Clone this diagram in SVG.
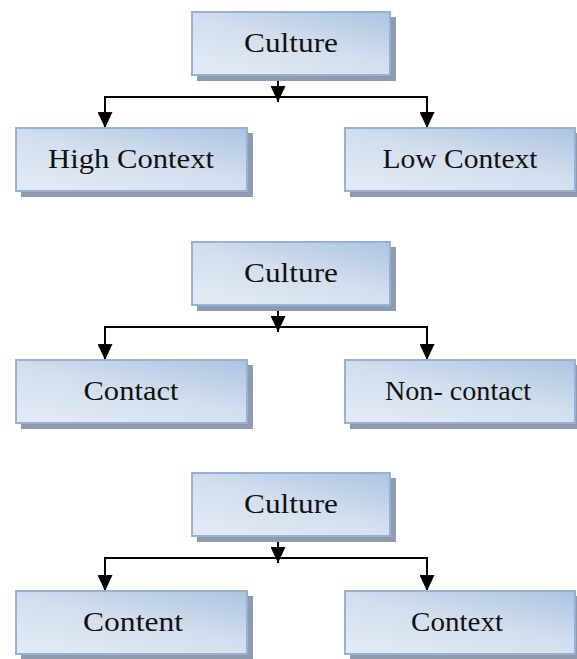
<svg xmlns="http://www.w3.org/2000/svg" width="577" height="659" viewBox="0 0 577 659">
<style>
.shadow{fill:#8e9aad}
.box{fill:url(#g);stroke:#95b2d6;stroke-width:2}
.lbl{font-family:"Liberation Serif","DejaVu Serif",serif;font-size:27px;fill:#111;text-anchor:middle}
.con{fill:none;stroke:#000;stroke-width:2}
</style>
<defs>
<linearGradient id="g" x1="1" y1="0" x2="0.25" y2="1">
<stop offset="0" stop-color="#acc4e1"/>
<stop offset="0.55" stop-color="#d3dfee"/>
<stop offset="1" stop-color="#e1e9f4"/>
</linearGradient>
<marker id="a" markerUnits="userSpaceOnUse" markerWidth="16" markerHeight="15" viewBox="0 0 16 15" refX="16" refY="7.5" orient="auto">
<path d="M0,0 L16,7.5 L0,15 Z" fill="#000"/>
</marker>
</defs>

<g id="connectors">
<path class="con" d="M278,75 V102" marker-end="url(#a)"/>
<path class="con" d="M278,97 H105 V128" marker-end="url(#a)"/>
<path class="con" d="M278,97 H427 V128" marker-end="url(#a)"/>
<path class="con" d="M278,305 V332" marker-end="url(#a)"/>
<path class="con" d="M278,327 H105 V360" marker-end="url(#a)"/>
<path class="con" d="M278,327 H427 V360" marker-end="url(#a)"/>
<path class="con" d="M278,536 V563" marker-end="url(#a)"/>
<path class="con" d="M278,558 H105 V591" marker-end="url(#a)"/>
<path class="con" d="M278,558 H427 V591" marker-end="url(#a)"/>
</g>

<g id="culture1">
<rect class="shadow" x="197" y="17" width="199" height="64"/>
<rect class="box" x="192" y="12" width="198" height="63"/>
<text class="lbl" x="291" y="52" textLength="94" lengthAdjust="spacingAndGlyphs">Culture</text>
</g>
<g id="high-context">
<rect class="shadow" x="21" y="133" width="232" height="64"/>
<rect class="box" x="16" y="128" width="231" height="63"/>
<text class="lbl" x="131" y="168" textLength="166" lengthAdjust="spacingAndGlyphs">High Context</text>
</g>
<g id="low-context">
<rect class="shadow" x="350" y="133" width="231" height="64"/>
<rect class="box" x="345" y="128" width="230" height="63"/>
<text class="lbl" x="460" y="168" textLength="155" lengthAdjust="spacingAndGlyphs">Low Context</text>
</g>

<g id="culture2">
<rect class="shadow" x="197" y="247" width="199" height="64"/>
<rect class="box" x="192" y="242" width="198" height="63"/>
<text class="lbl" x="291" y="282" textLength="94" lengthAdjust="spacingAndGlyphs">Culture</text>
</g>
<g id="contact">
<rect class="shadow" x="21" y="365" width="232" height="64"/>
<rect class="box" x="16" y="360" width="231" height="63"/>
<text class="lbl" x="131" y="400" textLength="95" lengthAdjust="spacingAndGlyphs">Contact</text>
</g>
<g id="non-contact">
<rect class="shadow" x="350" y="365" width="231" height="64"/>
<rect class="box" x="345" y="360" width="230" height="63"/>
<text class="lbl" x="458" y="400" textLength="146" lengthAdjust="spacingAndGlyphs">Non- contact</text>
</g>

<g id="culture3">
<rect class="shadow" x="197" y="478" width="199" height="64"/>
<rect class="box" x="192" y="473" width="198" height="63"/>
<text class="lbl" x="291" y="513" textLength="94" lengthAdjust="spacingAndGlyphs">Culture</text>
</g>
<g id="content">
<rect class="shadow" x="21" y="596" width="232" height="64"/>
<rect class="box" x="16" y="591" width="231" height="63"/>
<text class="lbl" x="133" y="631" textLength="100" lengthAdjust="spacingAndGlyphs">Content</text>
</g>
<g id="context">
<rect class="shadow" x="350" y="596" width="231" height="64"/>
<rect class="box" x="345" y="591" width="230" height="63"/>
<text class="lbl" x="457" y="631" textLength="92" lengthAdjust="spacingAndGlyphs">Context</text>
</g>
</svg>
